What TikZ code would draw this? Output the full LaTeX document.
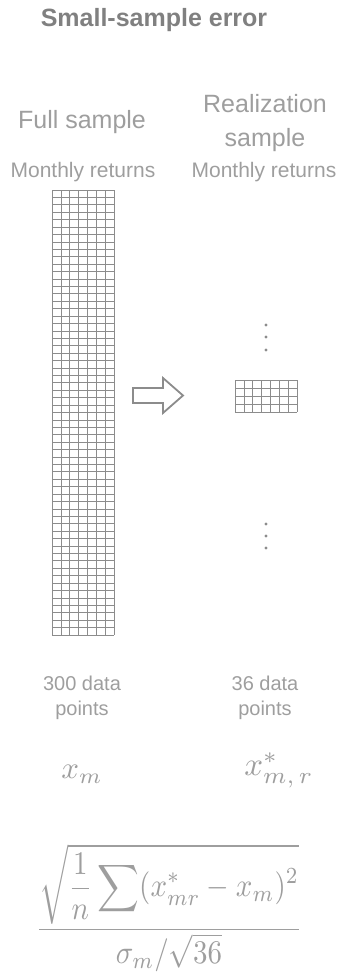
\documentclass[tikz,border=0pt]{standalone}
\usepackage{amsmath}
\usepackage{fontspec}
\usepackage{graphicx}
\setmainfont{Liberation Sans}
\definecolor{txt}{gray}{0.62}
\definecolor{ttl}{gray}{0.5}
\definecolor{gridc}{gray}{0.55}
\tikzset{
  lbl/.style={text=txt, inner sep=0pt, align=center},
  big/.style={lbl, font=\fontsize{25}{28}\selectfont},
  mid/.style={lbl, font=\fontsize{21}{24}\selectfont},
  cnt/.style={lbl, font=\fontsize{20}{25}\selectfont},
  gridline/.style={draw=gridc, line width=0.7pt},
  dotc/.style={circle, fill=gridc, inner sep=0pt, minimum size=3.2pt},
  arrowbox/.style={draw=gridc, line width=1.8pt, line join=miter},
  mathlbl/.style={text=txt, inner sep=0pt}
}
\begin{document}
\begin{tikzpicture}[x=1pt,y=-1pt]
\useasboundingbox (0,0) rectangle (339,980);
% title
\node[lbl, text=ttl, font=\fontsize{25}{28}\selectfont\bfseries] (title) at (154,20) {Small-sample error};
% headers
\node[big] (full) at (82,122) {Full sample};
\node[big] (real) at (265,104) {Realization};
\node[big] (samp) at (265,140) {sample};
\node[mid] (mrl) at (83,172) {Monthly returns};
\node[mid] (mrr) at (264,172) {Monthly returns};
% left grid
\foreach \i in {0,...,7} {\draw[gridline] (52+\i*8.857,190) -- (52+\i*8.857,635);}
\foreach \j in {0,...,60} {\draw[gridline] (52,190+\j*7.4167) -- (114,190+\j*7.4167);}
% right grid
\foreach \i in {0,...,7} {\draw[gridline] (235+\i*8.857,380) -- (235+\i*8.857,412);}
\foreach \j in {0,...,4} {\draw[gridline] (235,380+\j*8) -- (297,380+\j*8);}
% dots
\foreach \y [count=\k] in {325,337,350} {\node[dotc] (da\k) at (266,\y) {};}
\foreach \y [count=\k] in {524,536,548} {\node[dotc] (db\k) at (266,\y) {};}
% block arrow
\draw[arrowbox] (133,388) -- (163,388) -- (163,378) -- (183,395.5) -- (163,413) -- (163,403) -- (133,403) -- cycle;
% counts
\node[cnt] (cl) at (82,698) {300 data\\points};
\node[cnt] (cr) at (265,698) {36 data\\points};
% symbols
\node[mathlbl] (xm) at (82,774) {\scalebox{3.1}{$x_m$}};
\node[mathlbl] (xmr) at (279,770) {\scalebox{3.3}{$x^{*}_{m,\,r}$}};
% formula
\node[mathlbl] (formula) at (169,908) {\scalebox{2.9}[3.3]{$\displaystyle\frac{\sqrt{\displaystyle\frac{1}{n}\sum(x^{*}_{mr}-x_m)^2}}{\sigma_m/\sqrt{36}}$}};
\end{tikzpicture}
\end{document}
